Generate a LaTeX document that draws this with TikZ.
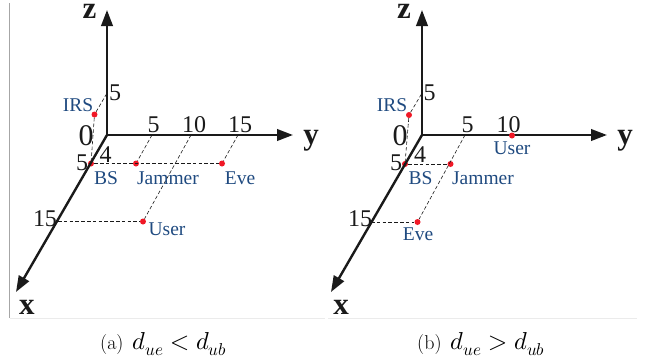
\documentclass[tikz,border=0pt]{standalone}
\usepackage{fontspec}
\usepackage{unicode-math}
\setmainfont{Liberation Serif}
\setmathfont{Latin Modern Math}
\newfontfamily\capfont{Latin Modern Roman}
\usetikzlibrary{arrows.meta}
\definecolor{lblblue}{HTML}{1F4A80}
\definecolor{axisink}{HTML}{1A1A1A}
\definecolor{dotred}{HTML}{F01826}
\newcommand{\capmath}[1]{{\fontsize{24.5}{25}\selectfont$#1$}}
\tikzset{
  axisline/.style={draw=axisink,line width=2.4pt,-{Triangle[length=16pt,width=11.5pt]}},
  guide/.style={draw=axisink,line width=0.6pt,dash pattern=on 3.6pt off 2.2pt},
  dot/.style={circle,fill=dotred,inner sep=0pt,minimum size=6pt},
  num/.style={font=\fontsize{24}{24}\selectfont,text=axisink,inner sep=0pt},
  zeronum/.style={font=\fontsize{30}{30}\selectfont,text=axisink,inner sep=0pt},
  lbl/.style={font=\fontsize{19.5}{20}\selectfont,text=lblblue,inner sep=0pt},
  axlbl/.style={font=\fontsize{31}{31}\selectfont\bfseries,text=axisink,inner sep=0pt},
  captext/.style={font=\capfont\fontsize{20}{20}\selectfont,text=black,inner sep=0pt},
  frameline/.style={draw=black!8,line width=0.6pt}
}
\begin{document}
\begin{tikzpicture}[x=1pt,y=-1pt]
\useasboundingbox (0,0) rectangle (649,362);
% frame lines
\coordinate (fa) at (9.5,3);
\coordinate (fb) at (9.5,318);
\coordinate (fc) at (325,318);
\coordinate (fd) at (328,318);
\coordinate (fe) at (637,318);
\draw[draw=black!35,line width=0.7pt] (fa) -- (fb);
\draw[frameline] (fb) -- (fc);
\draw[frameline] (fd) -- (fe);

% ---------- panel a ----------
\coordinate (ao) at (107,135);
\coordinate (az) at (107,10);
\coordinate (ay) at (293,135);
\coordinate (ax) at (16,292);
\coordinate (azfive) at (106.5,94);
\coordinate (ay5) at (152,135);
\coordinate (ay10) at (191,135);
\coordinate (ay15) at (238,135);
\coordinate (ax15) at (58,221.5);
\node[dot] (aBS) at (91,163.5) {};
\node[dot] (aIRS) at (94.5,114.5) {};
\node[dot] (aJam) at (136,163.5) {};
\node[dot] (aEve) at (222,163.5) {};
\node[dot] (aUser) at (143,221.5) {};
\draw[guide] (aIRS) -- (azfive);
\draw[guide] (aIRS) -- (aBS);
\draw[guide] (aBS) -- (aEve);
\draw[guide] (ay5) -- (aJam);
\draw[guide] (ay10) -- (aUser);
\draw[guide] (ay15) -- (aEve);
\draw[guide] (ax15) -- (aUser);
\draw[axisline] (ao) -- (az);
\draw[axisline] (ao) -- (ay);
\draw[axisline] (ao) -- (ax);
\node[axlbl,anchor=base] (azl) at (89.5,18) {z};
\node[axlbl,anchor=base] (ayl) at (311,144) {y};
\node[axlbl,anchor=base] (axl) at (27,314) {x};
\node[num,anchor=base] at (115,100) {5};
\node[zeronum,anchor=base] at (86,145) {0};
\node[num,anchor=base] at (105.5,162) {4};
\node[num,anchor=base] at (82,170) {5};
\node[num,anchor=base] at (153.5,132) {5};
\node[num,anchor=base] at (194,132) {10};
\node[num,anchor=base] at (240,132) {15};
\node[num,anchor=base] at (45,226) {15};
\node[lbl,anchor=base] at (78,111) {IRS};
\node[lbl,anchor=base] at (106,184) {BS};
\node[lbl,anchor=base] at (168,184) {Jammer};
\node[lbl,anchor=base] at (240,184) {Eve};
\node[lbl,anchor=base] at (167,235) {User};
\node[captext,anchor=base west] at (100,349) {(a)\hspace{9pt}\capmath{d_{ue}<d_{ub}}};

% ---------- panel b ----------
\coordinate (bo) at (422,135);
\coordinate (bz) at (422,10);
\coordinate (by) at (607,135);
\coordinate (bx) at (331,292);
\coordinate (bzfive) at (421.5,94);
\coordinate (by5) at (465,135);
\coordinate (bx15) at (371,222);
\node[dot] (bBS) at (405,164) {};
\node[dot] (bIRS) at (409,115) {};
\node[dot] (bJam) at (450.5,164) {};
\node[dot] (bEve) at (417.5,222) {};
\draw[guide] (bIRS) -- (bzfive);
\draw[guide] (bIRS) -- (bBS);
\draw[guide] (bBS) -- (bJam);
\draw[guide] (by5) -- (bEve);
\draw[guide] (bx15) -- (bEve);
\draw[axisline] (bo) -- (bz);
\draw[axisline] (bo) -- (by);
\draw[axisline] (bo) -- (bx);
\node[dot] (bUser) at (512,135.5) {};
\node[axlbl,anchor=base] (bzl) at (404,18) {z};
\node[axlbl,anchor=base] (byl) at (625,144) {y};
\node[axlbl,anchor=base] (bxl) at (341,314) {x};
\node[num,anchor=base] at (429.5,100) {5};
\node[zeronum,anchor=base] at (400,145) {0};
\node[num,anchor=base] at (420,162) {4};
\node[num,anchor=base] at (396,170) {5};
\node[num,anchor=base] at (467.5,132) {5};
\node[num,anchor=base] at (508.5,132) {10};
\node[num,anchor=base] at (360,226) {15};
\node[lbl,anchor=base] at (392,111) {IRS};
\node[lbl,anchor=base] at (420.5,184) {BS};
\node[lbl,anchor=base] at (483,184) {Jammer};
\node[lbl,anchor=base] at (512,154) {User};
\node[lbl,anchor=base] at (418,240) {Eve};
\node[captext,anchor=base west] at (417,349) {(b)\hspace{9pt}\capmath{d_{ue}>d_{ub}}};
\end{tikzpicture}
\end{document}
